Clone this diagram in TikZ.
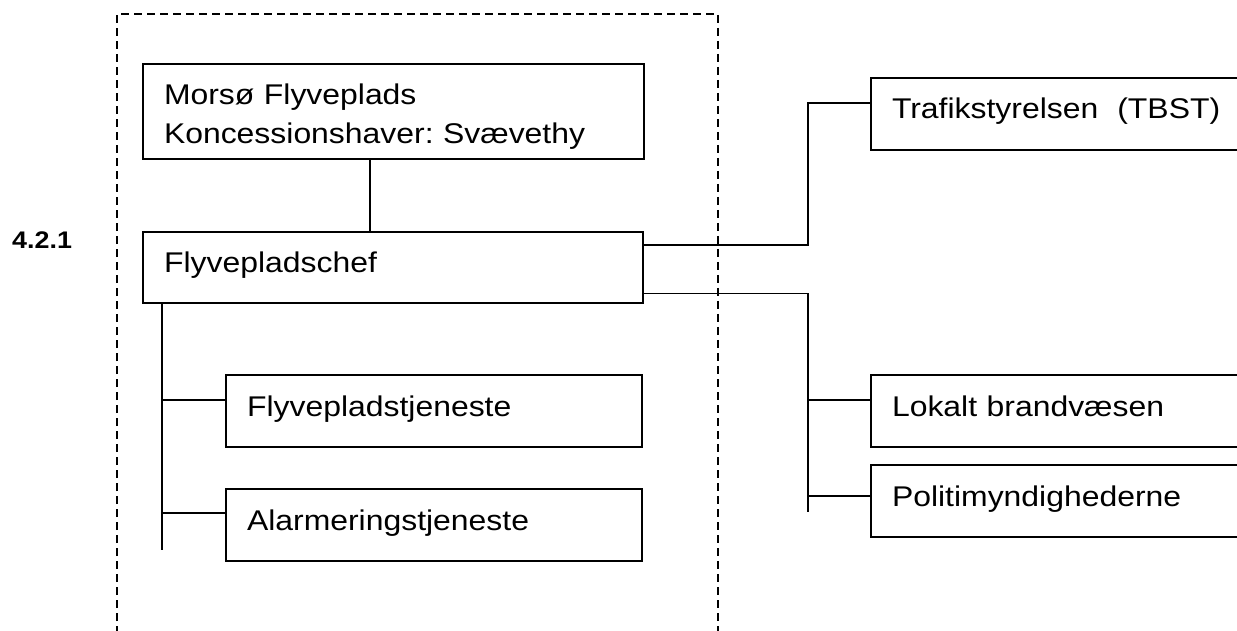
\documentclass[tikz,border=0pt]{standalone}
\usepackage{fontspec}
\setmainfont{Liberation Sans}[FakeStretch=1.12]
\frenchspacing
\begin{document}
\begin{tikzpicture}[x=1pt,y=-1pt,
  box/.style={draw, line width=2pt, rectangle, anchor=north west, inner xsep=21pt, inner ysep=0pt, align=left, font=\fontsize{28.5}{39}\selectfont},
  oneline/.style={text height=20pt, text depth=10pt},
  conn/.style={line width=1.8pt},
  framedash/.style={line width=1.5pt, dash pattern=on 8pt off 5pt},
  numlabel/.style={font=\fontsize{24}{28}\selectfont\bfseries, anchor=base west, inner sep=0pt}]
\useasboundingbox (0,0) rectangle (1237,631);
\clip (0,0) rectangle (1237,631);
% dashed frame (open at the bottom)
\draw[framedash] (117,660) -- (117,14) -- (718,14) -- (718,660);
% boxes
\node[box, minimum height=95pt, text width=459pt] (A) at (142,63) {\rule{0pt}{31.5pt}Morsø Flyveplads\\Koncessionshaver: Svævethy};
\node[box, oneline, minimum height=71pt, text width=458pt] (B) at (142,231) {Flyvepladschef};
\node[box, oneline, minimum height=72pt, text width=348pt] (T) at (870,77) {Trafikstyrelsen\ \ (TBST)};
\node[box, oneline, minimum height=72pt, text width=348pt] (L) at (870,374) {Lokalt brandvæsen};
\node[box, oneline, minimum height=72pt, text width=348pt] (P) at (870,464) {Politimyndighederne};
\node[box, oneline, minimum height=72pt, text width=374pt] (F) at (225,374) {Flyvepladstjeneste};
\node[box, oneline, minimum height=72pt, text width=374pt] (Al) at (225,488) {Alarmeringstjeneste};
\node[numlabel] (num) at (12,248.5) {4.2.1};
% connectors
\coordinate (ax) at (370,0);
\draw[conn] (ax |- A.south) -- (ax |- B.north);
\coordinate (rx) at (808,0);
\coordinate (rend) at (808,512);
\draw[conn] ([yshift=22.5pt]B.east) -| ([yshift=11.3pt]T.west -| rx) -- ([yshift=11.3pt]T.west);
\draw[conn] ([yshift=-26pt]B.east) -| (rend);
\draw[conn] ([yshift=11pt]L.west -| rx) -- ([yshift=11pt]L.west);
\draw[conn] ([yshift=5pt]P.west -| rx) -- ([yshift=5pt]P.west);
\coordinate (lx) at (162,0);
\coordinate (lend) at (162,550);
\draw[conn] (lx |- B.south) -- (lend);
\draw[conn] ([yshift=11.2pt]F.west -| lx) -- ([yshift=11.2pt]F.west);
\draw[conn] ([yshift=12pt]Al.west -| lx) -- ([yshift=12pt]Al.west);
\end{tikzpicture}
\end{document}
